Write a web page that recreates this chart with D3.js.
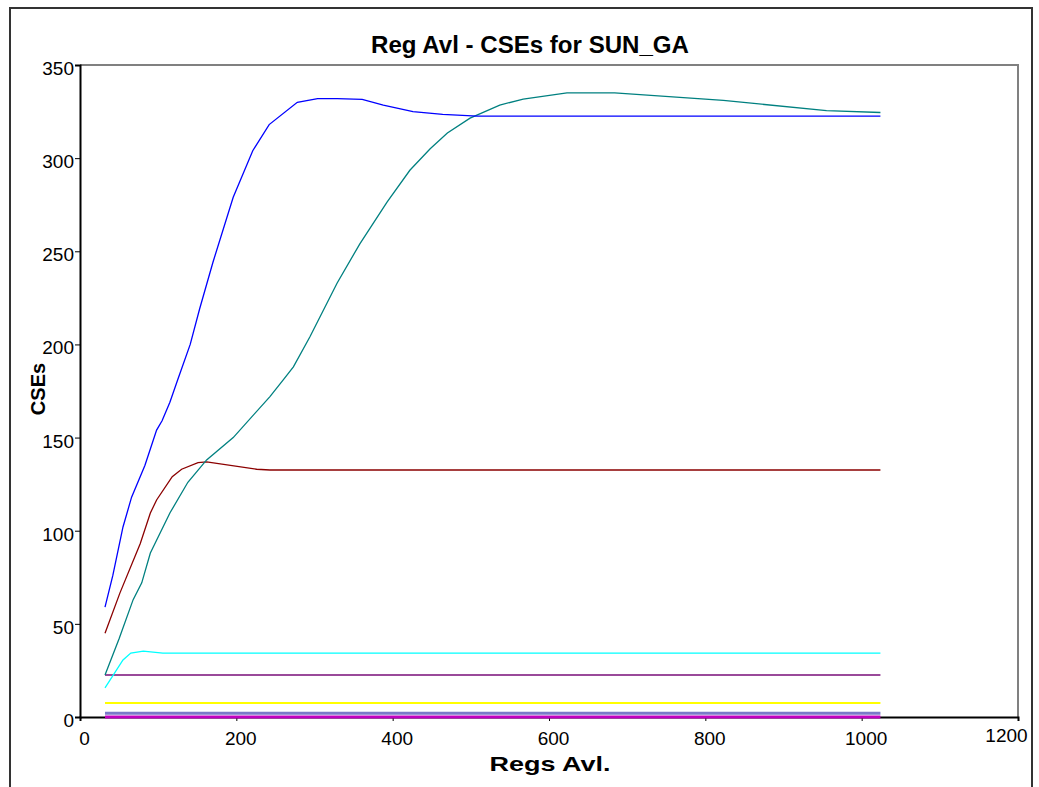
<!DOCTYPE html>
<html>
<head>
<meta charset="utf-8">
<script src="https://cdnjs.cloudflare.com/ajax/libs/d3/7.8.5/d3.min.js"></script>
<style>
  body { margin: 0; background: #fff; }
  svg { display: block; font-family: Arial, "Liberation Sans", sans-serif; }
</style>
</head>
<body>
<div id="viz-container"></div>
<script>
// chart values
let xTicks = [0, 200, 400, 600, 800, 1000, 1200];
let yTicks = [0, 50, 100, 150, 200, 250, 300, 350];

let blueX = [32, 42, 55, 66, 83, 98, 105, 115, 125, 141, 153, 170, 196, 221, 242, 278, 304, 329, 361, 388, 426, 464, 508, 1024];
let blueY = [59, 76, 102, 118, 135, 154, 159, 169, 181, 200, 219, 244, 279, 304, 318, 330, 332, 332, 331.5, 328.5, 325, 323.5, 322.6, 322.6];

let tealX = [32, 50, 68, 79, 90, 115, 138, 162, 196, 243, 260, 273, 294, 329, 358, 393, 422, 448, 470, 499, 537, 567, 623, 684, 823, 955, 1024];
let tealY = [22.5, 42, 63, 72, 88, 109.5, 126, 138, 150, 172, 181, 188, 204, 233, 254, 276.5, 293.5, 305, 313.5, 321.5, 328.5, 331.7, 335, 335, 331, 325.5, 324.5];

let redX = [32, 51, 77, 90, 98, 118, 130, 151, 162, 226, 243, 1024];
let redY = [45, 66.5, 93, 109.5, 116.5, 129, 133, 136.5, 137, 133, 132.6, 132.6];

let cyanX = [32, 55, 65, 81, 106, 1024];
let cyanY = [15.6, 30.6, 34.3, 35.4, 34.3, 34.3];

let flatX = [32, 64, 128, 256, 512, 1024];
let purpleY = [22.5, 22.5, 22.5, 22.5, 22.5, 22.5];
let yellowY = [7.5, 7.5, 7.5, 7.5, 7.5, 7.5];
let slateY = [2, 2, 2, 2, 2, 2];
let magentaY = [0, 0, 0, 0, 0, 0];

// series list: x array, y array, colour, width
let series = [
    { xs: flatX, ys: purpleY, color: "#9a4a9a", w: 2 },
    { xs: flatX, ys: yellowY, color: "#ffff00", w: 2 },
    { xs: flatX, ys: slateY, color: "#7a7ac8", w: 3 },
    { xs: cyanX, ys: cyanY, color: "#00ffff", w: 1.3 },
    { xs: redX, ys: redY, color: "#8b0000", w: 1.3 },
    { xs: tealX, ys: tealY, color: "#008080", w: 1.3 },
    { xs: blueX, ys: blueY, color: "#0000ff", w: 1.3 },
    { xs: flatX, ys: magentaY, color: "#c000c0", w: 3 }
];

let viz = d3.select("#viz-container")
    .append("svg")
    .attr("width", 1039)
    .attr("height", 787);

// outer frame
viz.append("rect")
    .attr("x", 10).attr("y", 8)
    .attr("width", 1022).attr("height", 800)
    .attr("fill", "none")
    .attr("stroke", "#333")
    .attr("stroke-width", 2);

let plotL = 80, plotT = 65, plotR = 1018, plotB = 717;

let x = d3.scaleLinear().domain([0, 1200]).range([plotL, plotR]);
let y = d3.scaleLinear().domain([0, 350]).range([plotB, plotT]);

// plot box: grey top + right
viz.append("path")
    .attr("d", "M" + plotL + "," + plotT + "H" + plotR + "V" + plotB)
    .attr("fill", "none")
    .attr("stroke", "#808080")
    .attr("stroke-width", 2);

// y axis
let yAxis = viz.append("g")
    .attr("transform", "translate(" + plotL + ",0)")
    .call(d3.axisLeft(y).tickValues(yTicks).tickSize(5).tickPadding(1).tickFormat(d3.format("d")));
yAxis.select(".domain").attr("stroke", "#000").attr("stroke-width", 2);
yAxis.selectAll(".tick line").attr("stroke", "#000");
yAxis.selectAll("text")
    .attr("font-size", 19)
    .attr("font-family", "Arial, 'Liberation Sans', sans-serif")
    .attr("fill", "#000")
    .attr("dy", "0.5em");

// x axis
let xAxis = viz.append("g")
    .attr("transform", "translate(0," + plotB + ")")
    .call(d3.axisBottom(x).tickValues(xTicks).tickSize(4).tickPadding(11).tickFormat(d3.format("d")));
xAxis.select(".domain").attr("stroke", "#000").attr("stroke-width", 2);
xAxis.selectAll(".tick line").attr("stroke", "#000");
xAxis.selectAll("text")
    .attr("font-size", 19)
    .attr("font-family", "Arial, 'Liberation Sans', sans-serif")
    .attr("fill", "#000")
    .attr("dx", 4);
// last label sits a little left and up, like the original
xAxis.selectAll(".tick").filter(d => d === 1200).select("text")
    .attr("dx", -12).attr("dy", "0.5em");

// lines
let line = d3.line()
    .x(d => x(d[0]))
    .y(d => y(d[1]));

viz.selectAll(".series").data(series).enter().append("path")
    .attr("class", "series")
    .attr("d", s => line(d3.zip(s.xs, s.ys)))
    .attr("fill", "none")
    .attr("stroke", s => s.color)
    .attr("stroke-width", s => s.w);

// titles
viz.append("text")
    .text("Reg Avl - CSEs for SUN_GA")
    .attr("x", 530).attr("y", 53)
    .attr("text-anchor", "middle")
    .attr("font-size", 23)
    .attr("font-weight", "bold")
    .attr("textLength", 318)
    .attr("lengthAdjust", "spacingAndGlyphs");

viz.append("text")
    .text("Regs Avl.")
    .attr("x", 550).attr("y", 771)
    .attr("text-anchor", "middle")
    .attr("font-size", 21)
    .attr("font-weight", "bold")
    .attr("textLength", 121)
    .attr("lengthAdjust", "spacingAndGlyphs");

viz.append("text")
    .text("CSEs")
    .attr("transform", "translate(45,389) rotate(-90)")
    .attr("text-anchor", "middle")
    .attr("font-size", 20)
    .attr("font-weight", "bold");
</script>
</body>
</html>
